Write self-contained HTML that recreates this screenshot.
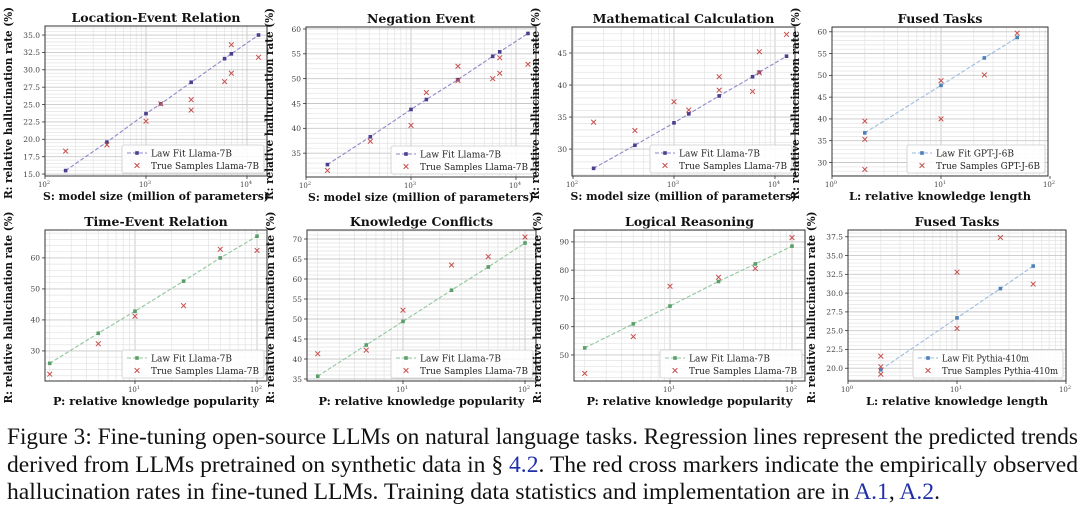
<!DOCTYPE html>
<html><head><meta charset="utf-8">
<style>
html,body{margin:0;padding:0;background:#fff;width:1080px;height:507px;overflow:hidden}
svg{display:block}
</style></head>
<body>
<svg id="s" width="1080" height="507" xmlns="http://www.w3.org/2000/svg" font-family="'DejaVu Serif','Liberation Serif',serif">
<g id="charts"></g>
<g font-family="'Liberation Serif',serif" font-size="23.3" fill="#111">
<text x="7" y="444" textLength="1071" lengthAdjust="spacingAndGlyphs">Figure 3: Fine-tuning open-source LLMs on natural language tasks. Regression lines represent the predicted trends</text>
<text x="7" y="472" textLength="1071" lengthAdjust="spacingAndGlyphs">derived from LLMs pretrained on synthetic data in § <tspan fill="#1f2fa8">4.2</tspan>. The red cross markers indicate the empirically observed</text>
<text x="7" y="499" textLength="933" lengthAdjust="spacingAndGlyphs">hallucination rates in fine-tuned LLMs. Training data statistics and implementation are in <tspan fill="#1f2fa8">A.1</tspan>, <tspan fill="#1f2fa8">A.2</tspan>.</text>
</g>
</svg>
<script>
const P=[
{L:45,R:267,T:26,B:176,x0:2,px0:45,dec:101,xt:[2,3,4],ymin:14.72,ymax:36.3,yt:[15,17.5,20,22.5,25,27.5,30,32.5,35],yf:1,ym:0.5,
 title:"Location-Event Relation",xl:"S: model size (million of parameters)",c:"p",lab:"Llama-7B",
 fit:[[160,15.5],[410,19.6],[1000,23.7],[1400,25.1],[2800,28.2],[6000,31.6],[7000,32.3],[13000,35.0]],
 tr:[[160,18.3],[410,19.2],[1000,22.6],[1400,25.1],[2800,25.7],[2800,24.2],[6000,28.3],[7000,33.6],[7000,29.5],[13000,31.8]]},
{L:306,R:536,T:27,B:177,x0:2,px0:306,dec:105,xt:[2,3,4],ymin:30.2,ymax:60.4,yt:[35,40,45,50,55,60],yf:0,ym:1,
 title:"Negation Event",xl:"S: model size (million of parameters)",c:"p",lab:"Llama-7B",
 fit:[[160,32.7],[410,38.3],[1000,43.8],[1400,45.8],[2800,49.8],[6000,54.5],[7000,55.4],[13000,59.1]],
 tr:[[160,31.5],[410,37.4],[1000,40.6],[1400,47.2],[2800,52.5],[2800,49.6],[6000,50],[7000,51.1],[7000,54.2],[13000,52.9]]},
{L:572,R:795,T:27,B:176,x0:2,px0:573,dec:101,xt:[2,3,4],ymin:25.8,ymax:49.06,yt:[30,35,40,45],yf:0,ym:1,
 title:"Mathematical Calculation",xl:"S: model size (million of parameters)",c:"p",lab:"Llama-7B",
 fit:[[160,27],[410,30.6],[1000,34.1],[1400,35.5],[2800,38.3],[6000,41.3],[7000,42],[13000,44.5]],
 tr:[[160,34.2],[410,32.9],[1000,37.4],[1400,36.1],[2800,39.2],[2800,41.3],[6000,39],[7000,45.2],[7000,41.9],[13000,47.9]]},
{L:832,R:1048,T:27,B:176,x0:0,px0:832,dec:109,xt:[0,1,2],ymin:26.9,ymax:61.1,yt:[30,35,40,45,50,55,60],yf:0,ym:1,
 title:"Fused Tasks",xl:"L: relative knowledge length",c:"b",lab:"GPT-J-6B",
 fit:[[2,36.8],[10,47.7],[25,54],[50,58.7]],
 tr:[[2,39.5],[2,35.3],[2,28.4],[10,48.8],[10,40],[25,50.1],[50,59.7]]},
{L:45,R:267,T:230,B:381,x0:1,px0:135,dec:122,xt:[1,2],ymin:20.3,ymax:69,yt:[30,40,50,60],yf:0,ym:2,
 title:"Time-Event Relation",xl:"P: relative knowledge popularity",c:"g",lab:"Llama-7B",
 fit:[[2,26],[5,35.7],[10,42.8],[25,52.5],[50,60],[100,67]],
 tr:[[2,22.5],[5,32.3],[10,41.2],[25,44.6],[50,62.8],[100,62.4]]},
{L:307,R:536,T:230,B:381,x0:1,px0:403,dec:122,xt:[1,2],ymin:34.5,ymax:72.25,yt:[35,40,45,50,55,60,65,70],yf:0,ym:1,
 title:"Knowledge Conflicts",xl:"P: relative knowledge popularity",c:"g",lab:"Llama-7B",
 fit:[[2,35.7],[5,43.5],[10,49.4],[25,57.2],[50,63],[100,69]],
 tr:[[2,41.3],[5,42.2],[10,52.2],[25,63.5],[50,65.6],[100,70.5]]},
{L:574,R:805,T:230,B:381,x0:1,px0:670,dec:122,xt:[1,2],ymin:40.8,ymax:94.2,yt:[50,60,70,80,90],yf:0,ym:2,
 title:"Logical Reasoning",xl:"P: relative knowledge popularity",c:"g",lab:"Llama-7B",
 fit:[[2,52.5],[5,61],[10,67.3],[25,76],[50,82.2],[100,88.5]],
 tr:[[2,43.5],[5,56.5],[10,74.3],[25,77.5],[50,80.6],[100,91.5]]},
{L:848,R:1066,T:230,B:381,x0:0,px0:848,dec:109,xt:[0,1,2],ymin:18.3,ymax:38.4,yt:[20,22.5,25,27.5,30,32.5,35,37.5],yf:1,ym:0.5,
 title:"Fused Tasks",xl:"L: relative knowledge length",c:"b",lab:"Pythia-410m",
 fit:[[2,19.8],[10,26.7],[25,30.6],[50,33.6]],
 tr:[[2,21.6],[2,20.2],[2,19.2],[10,32.8],[10,25.3],[25,37.4],[50,31.2]]}
];
const COL={p:["#8e88c9","#4a3f8f"],g:["#8fc79c","#5a9f6b"],b:["#9bbbe0","#4d80b8"]};
let h="";
for(const p of P){
 const X=v=>p.px0+(Math.log10(v)-p.x0)*p.dec;
 const Y=v=>p.B-(v-p.ymin)/(p.ymax-p.ymin)*(p.B-p.T);
 const W=p.R-p.L,H=p.B-p.T;
 h+=`<rect x="${p.L}" y="${p.T}" width="${W}" height="${H}" fill="#fff"/>`;
 for(let e=p.x0-1;e<=p.x0+4;e++)for(let k=1;k<10;k++){const x=p.px0+(e-p.x0+Math.log10(k))*p.dec;if(x>p.L&&x<p.R)h+=`<line x1="${x}" y1="${p.T}" x2="${x}" y2="${p.B}" stroke="${k==1?'#c8c8c8':'#e3e3e3'}" stroke-width="${k==1?0.9:0.7}"/>`;}
 const step=p.yt[1]-p.yt[0];
 for(let v=p.yt[0]-step*3;v<=p.ymax+0.001;v+=p.ym){const y=Y(v);if(y>p.T&&y<p.B){const maj=Math.abs((v-p.yt[0])/step-Math.round((v-p.yt[0])/step))<1e-6;h+=`<line x1="${p.L}" y1="${y}" x2="${p.R}" y2="${y}" stroke="${maj?'#c8c8c8':'#e3e3e3'}" stroke-width="${maj?0.9:0.7}"/>`;}}
 for(const v of p.yt){const y=Y(v);h+=`<line x1="${p.L-3}" y1="${y}" x2="${p.L}" y2="${y}" stroke="#333" stroke-width="0.8"/><text x="${p.L-5}" y="${y+2.8}" font-size="7.5" fill="#444" text-anchor="end">${p.yf?v.toFixed(1):v}</text>`;}
 for(const e of p.xt){const x=p.px0+(e-p.x0)*p.dec;h+=`<line x1="${x}" y1="${p.B}" x2="${x}" y2="${p.B+3}" stroke="#333" stroke-width="0.8"/><text x="${x-1}" y="${p.B+11}" font-size="7" fill="#444" text-anchor="middle">10<tspan font-size="5" dy="-3">${e}</tspan></text>`;}
 const c=COL[p.c];
 h+=`<polyline points="${p.fit.map(q=>X(q[0])+','+Y(q[1])).join(' ')}" fill="none" stroke="${c[0]}" stroke-width="1.1" stroke-dasharray="4,2"/>`;
 for(const q of p.fit)h+=`<rect x="${X(q[0])-1.8}" y="${Y(q[1])-1.8}" width="3.6" height="3.6" fill="${c[1]}"/>`;
 const cr=(x,y,s)=>`<path d="M${x-s} ${y-s}L${x+s} ${y+s}M${x-s} ${y+s}L${x+s} ${y-s}" stroke="#c8504e" stroke-width="1"/>`;
 for(const q of p.tr)h+=cr(X(q[0]),Y(q[1]),2.4);
 h+=`<rect x="${p.L}" y="${p.T}" width="${W}" height="${H}" fill="none" stroke="#333" stroke-width="1"/>`;
 const tl=p.lab=="GPT-J-6B"?104:(p.lab=="Llama-7B"?108:116);
 const lw=tl+34;
 const lx=p.R-3-lw,ly=p.B-3-28;
 h+=`<rect x="${lx}" y="${ly}" width="${lw}" height="28" rx="2" fill="#fff" fill-opacity="0.85" stroke="#ccc" stroke-width="0.8"/>`;
 h+=`<line x1="${lx+5}" y1="${ly+8}" x2="${lx+25}" y2="${ly+8}" stroke="${c[0]}" stroke-width="1.1" stroke-dasharray="4,2"/><rect x="${lx+13.2}" y="${ly+6.2}" width="3.6" height="3.6" fill="${c[1]}"/>`;
 h+=cr(lx+15,ly+20.5,2.4);
 h+=`<text x="${lx+29}" y="${ly+11.5}" font-size="9.5" fill="#222" textLength="${tl*0.75}" lengthAdjust="spacingAndGlyphs">Law Fit ${p.lab}</text><text x="${lx+29}" y="${ly+24}" font-size="9.5" fill="#222" textLength="${tl}" lengthAdjust="spacingAndGlyphs">True Samples ${p.lab}</text>`;
 h+=`<text x="${(p.L+p.R)/2}" y="${p.T-4}" font-size="12.5" font-weight="bold" text-anchor="middle" fill="#111">${p.title}</text>`;
 const xlw=p.xl.startsWith("S")?226:(p.xl.startsWith("P")?206:182);
 h+=`<text x="${(p.L+p.R)/2}" y="${p.B+24}" font-size="11.5" font-weight="bold" text-anchor="middle" fill="#111" textLength="${xlw}" lengthAdjust="spacingAndGlyphs">${p.xl}</text>`;
 const yx=p.L-33,yc=(p.T+p.B)/2+2;
 h+=`<text transform="translate(${yx},${yc}) rotate(-90)" font-size="11.5" font-weight="bold" text-anchor="middle" fill="#111" textLength="192" lengthAdjust="spacingAndGlyphs">R: relative hallucination rate (%)</text>`;
}
document.getElementById("charts").innerHTML=h;
</script>
</body></html>
